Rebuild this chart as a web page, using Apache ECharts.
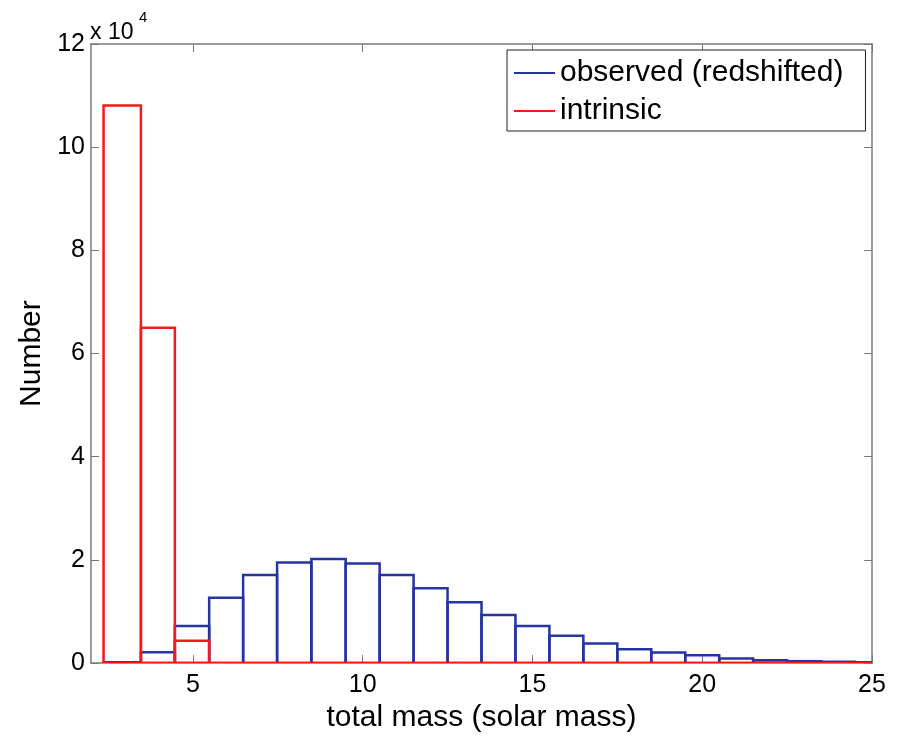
<!DOCTYPE html>
<html>
<head>
<meta charset="utf-8">
<script src="https://cdn.jsdelivr.net/npm/echarts@6/dist/echarts.min.js"></script>
<style>html,body{margin:0;padding:0;background:#fff}#c{width:903px;height:738px}</style>
</head>
<body>
<div id="c"></div>
<script>
// Histogram bin edges (total mass, solar mass)
const binEdges = [2.37, 3.47, 4.47, 5.48, 6.48, 7.48, 8.49, 9.5, 10.5, 11.5, 12.5, 13.5, 14.5, 15.5, 16.5, 17.5, 18.5, 19.5, 20.5, 21.5, 22.5, 23.5, 24.5, 25.5];
// Counts per bin
const observedCounts = [150, 2100, 7200, 12650, 17100, 19500, 20200, 19300, 17100, 14500, 11800, 9300, 7200, 5300, 3800, 2700, 2050, 1530, 900, 570, 380, 250, 150];
const intrinsicCounts = [108100, 65000, 4350, 0, 0, 0, 0, 0, 0, 0, 0, 0, 0, 0, 0, 0, 0, 0, 0, 0, 0, 0, 0];
const seriesNames = ['observed (redshifted)', 'intrinsic'];
const xTicks = [5, 10, 15, 20, 25];
const yTicks = [0, 20000, 40000, 60000, 80000, 100000, 120000];
const xLabel = 'total mass (solar mass)';
const yLabel = 'Number';

const FONT = '"Liberation Sans", Arial, Helvetica, sans-serif';
const AXIS_GREY = '#7a7a7a';

function toBars(counts) {
  return counts.map((c, i) => [binEdges[i], binEdges[i + 1], c]);
}

function renderBar(params, api) {
  const p0 = api.coord([api.value(0), 0]);
  const p1 = api.coord([api.value(1), api.value(2)]);
  return {
    type: 'polygon',
    shape: { points: [[p0[0], p0[1]], [p0[0], p1[1]], [p1[0], p1[1]], [p1[0], p0[1]]] },
    style: { fill: 'none', stroke: api.visual('color'), lineWidth: 2.5, lineJoin: 'miter' }
  };
}

const chart = echarts.init(document.getElementById('c'), null, { renderer: 'canvas' });

const xCommon = {
  type: 'value', min: 2, max: 25,
  splitLine: { show: false },
  axisLine: { show: true, onZero: false, lineStyle: { color: AXIS_GREY, width: 1.5 } },
  axisTick: { show: true, inside: true, length: 8, customValues: xTicks, lineStyle: { color: AXIS_GREY, width: 1 } }
};
const yCommon = {
  type: 'value', min: 0, max: 120000, interval: 20000,
  splitLine: { show: false },
  axisLine: { show: true, onZero: false, lineStyle: { color: AXIS_GREY, width: 1.5 } },
  axisTick: { show: true, inside: true, length: 8, lineStyle: { color: AXIS_GREY, width: 1 } }
};

chart.setOption({
  animation: false,
  backgroundColor: '#fff',
  color: ['#2434a0', '#f51a1a'],
  grid: { left: 91, right: 31, top: 44, bottom: 68, containLabel: false },
  xAxis: [
    Object.assign({}, xCommon, {
      position: 'bottom',
      axisLabel: { show: true, customValues: xTicks, margin: 10, color: '#000', fontSize: 25, fontFamily: FONT },
      name: xLabel, nameLocation: 'middle', nameGap: 38,
      nameTextStyle: { color: '#000', fontSize: 30, fontFamily: FONT }
    }),
    Object.assign({}, xCommon, { position: 'top', axisLabel: { show: false } })
  ],
  yAxis: [
    Object.assign({}, yCommon, {
      position: 'left',
      axisLabel: { show: true, margin: 6, color: '#000', fontSize: 25, fontFamily: FONT,
        formatter: v => String(v / 10000) },
      name: yLabel, nameLocation: 'middle', nameGap: 38,
      nameTextStyle: { color: '#000', fontSize: 30, fontFamily: FONT }
    }),
    Object.assign({}, yCommon, { position: 'right', axisLabel: { show: false } })
  ],
  legend: {
    orient: 'vertical', left: 507, top: 50,
    data: seriesNames,
    icon: 'rect', itemWidth: 41, itemHeight: 2,
    itemGap: 8,
    padding: [8, 22, 5, 7],
    borderColor: '#222', borderWidth: 1, borderRadius: 0,
    backgroundColor: '#fff',
    textStyle: { color: '#000', fontSize: 30, fontFamily: FONT, lineHeight: 30 }
  },
  graphic: [
    { type: 'text', left: 90, top: 21, style: { text: 'x 10', fontSize: 23, fontFamily: FONT, fill: '#000' } },
    { type: 'text', left: 139, top: 10, style: { text: '4', fontSize: 15, fontFamily: FONT, fill: '#000' } }
  ],
  series: [
    { name: seriesNames[0], type: 'custom', renderItem: renderBar, clip: true,
      encode: { x: [0, 1], y: 2 }, data: toBars(observedCounts), z: 2 },
    { name: seriesNames[1], type: 'custom', renderItem: renderBar, clip: true,
      encode: { x: [0, 1], y: 2 }, data: toBars(intrinsicCounts), z: 3 }
  ]
});
</script>
</body>
</html>
